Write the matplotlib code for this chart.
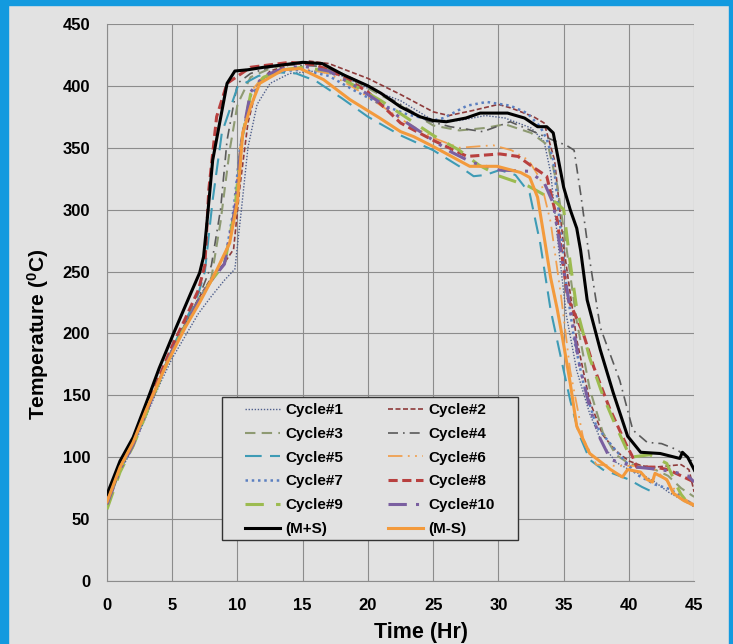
import matplotlib
matplotlib.use('Agg')
import matplotlib.pyplot as plt
from matplotlib.patches import Rectangle

plt.rcParams['font.family'] = ['Liberation Sans', 'DejaVu Sans']
plt.rcParams['mathtext.fontset'] = 'custom'
plt.rcParams['mathtext.bf'] = 'Liberation Sans:bold'
plt.rcParams['mathtext.rm'] = 'Liberation Sans'

# values (time in hours, temperature in deg C)
c1_t = [0, 1, 2, 3, 4, 5, 6, 7, 8, 9, 9.8, 10.3, 10.8, 11.5, 12.5, 14, 16, 18, 20, 22.5,
        25, 27, 29, 30.5, 32.5, 33.5, 34, 34.6, 35.2, 36, 37, 38, 39, 40, 41, 42, 43, 44, 45]
c1_T = [62, 88, 108, 133, 158, 180, 198, 216, 230, 243, 252, 300, 350, 385, 402, 410, 412, 408, 398, 388,
        372, 372, 376, 374, 366, 355, 330, 270, 215, 170, 135, 110, 96, 90, 86, 80, 72, 66, 60]

c2_t = [0, 1, 2, 3, 4, 5, 6, 7, 8, 9, 9.7, 10.2, 10.8, 11.5, 12.5, 14, 15.5, 17, 18.5, 20, 22.5,
        25, 26.2, 28, 30, 31, 32.7, 33.5, 34.3, 35, 36, 37, 38, 39, 40, 41, 42, 43, 44, 44.6, 45]
c2_T = [63, 91, 111, 137, 163, 187, 208, 228, 245, 257, 268, 320, 370, 400, 412, 417, 420, 418, 412, 406, 393,
        379, 376, 380, 385, 382, 375, 370, 340, 270, 195, 145, 118, 105, 97, 93, 92, 93, 94, 90, 72]

c3_t = [0, 1, 2, 3, 4, 5, 6, 7, 8, 8.7, 9.4, 10, 11, 12.5, 14, 16, 18, 20, 22.5, 25, 27, 29, 30.5,
        32.5, 33.8, 34.5, 35.2, 36, 37, 38, 39, 40, 41, 42, 43, 44, 45]
c3_T = [60, 90, 110, 136, 162, 186, 206, 226, 245, 290, 348, 385, 407, 414, 418, 418, 410, 398, 384, 368, 364, 366, 369,
        362, 352, 320, 270, 210, 155, 120, 102, 95, 92, 90, 85, 75, 68]

c4_t = [0, 1, 2, 3, 4, 5, 6, 7, 8, 8.7, 9.2, 10, 11, 12.5, 14, 16, 18, 20, 22.5, 24.5, 26.3, 28.8, 30.9,
        32.7, 34.2, 35.2, 35.8, 36.3, 37, 37.8, 39.3, 40.3, 41.4, 42.5, 43.7, 44.8, 45]
c4_T = [61, 90, 111, 137, 163, 188, 208, 228, 255, 300, 356, 402, 410, 415, 417, 416, 410, 400, 385, 372, 367, 363, 371,
        363, 356, 352, 348, 313, 259, 205, 162, 122, 112, 111, 106, 97, 88]

c5_t = [0, 1, 2, 3, 4, 5, 6, 7, 7.5, 8.1, 8.8, 10, 11.6, 13, 14.5, 16, 18, 20, 22.5, 25, 27, 28.1, 29,
        30.1, 31.3, 32.4, 33.2, 34, 35, 35.5, 36.2, 37, 38, 39, 40, 41, 41.6]
c5_T = [62, 90, 110, 136, 162, 188, 210, 232, 250, 308, 362, 399, 408, 411, 410, 404, 390, 375, 360, 348, 335, 327, 328,
        332, 328, 313, 273, 219, 170, 146, 118, 98, 90, 86, 82, 76, 73]

c6_t = [0, 1, 2, 3, 4, 5, 6, 7, 8, 9, 9.8, 10.2, 11, 12, 13.5, 15, 17, 19, 21, 23, 25, 27, 29.6,
        31, 32.3, 33.2, 34, 34.8, 35.5, 36.5, 37.5, 39, 40.6, 42, 43, 44, 45]
c6_T = [63, 91, 111, 137, 162, 186, 206, 225, 242, 256, 300, 350, 395, 408, 413, 414, 410, 398, 384, 370, 358, 350, 352,
        348, 340, 325, 290, 230, 170, 115, 94, 93, 93, 90, 80, 68, 62]

c7_t = [0, 1, 2, 3, 4, 5, 6, 7, 8, 9, 9.7, 10.2, 11, 12, 13.5, 15, 17, 19, 21, 23, 25, 25.8, 27.6, 29.1,
        30.9, 32.2, 33.2, 33.7, 34.2, 34.7, 35.2, 35.8, 36.5, 37.5, 38.8, 40.6, 42, 43.2, 44, 45]
c7_T = [62, 90, 110, 136, 162, 186, 206, 226, 243, 257, 300, 350, 392, 406, 412, 413, 408, 396, 385, 377, 372, 374, 384, 387,
        384, 378, 367, 357, 340, 290, 240, 195, 160, 125, 108, 86, 78, 74, 68, 61]

c8_t = [0, 1, 2, 3, 4, 5, 6, 7, 7.5, 7.8, 8.4, 9.2, 11, 14, 16, 18, 20, 22.5, 25, 27.6, 30.1,
        31.5, 32.7, 33.7, 34.5, 35.3, 36.5, 37.3, 38.5, 39.8, 40.3, 40.6, 42, 43, 44, 45]
c8_T = [65, 93, 113, 139, 165, 190, 212, 235, 255, 316, 375, 402, 415, 419, 417, 408, 395, 370, 356, 343, 345,
        343, 334, 327, 292, 229, 200, 173, 140, 110, 100, 92, 92, 90, 85, 80]

c9_t = [0, 1, 2, 3, 4, 5, 6, 7, 8, 9, 9.8, 10.3, 11, 12, 13.5, 15, 17, 19, 21, 23, 25, 27, 28.5,
        30.1, 32.3, 33.5, 34.5, 35, 35.5, 36, 37, 38, 38.8, 40.1, 41.6, 42.9, 43.7, 44, 44.3]
c9_T = [58, 88, 109, 135, 161, 186, 206, 226, 243, 256, 300, 355, 393, 407, 413, 415, 412, 400, 388, 374, 360, 348, 336,
        327, 319, 312, 305, 300, 257, 220, 180, 150, 130, 100, 102, 95, 76, 70, 66]

c10_t = [0, 1, 2, 3, 4, 5, 6, 7, 8, 9, 9.8, 10.3, 11, 12, 13.5, 15, 17, 19, 21, 23, 25, 26.3, 28,
         30.1, 32.3, 33.5, 34.2, 35, 35.5, 36.2, 37, 37.8, 38.6, 40.6, 42.4, 43.5, 44.5, 45]
c10_T = [62, 90, 110, 136, 162, 186, 206, 226, 243, 256, 300, 355, 395, 408, 414, 416, 412, 400, 386, 370, 356, 347, 338,
         332, 331, 322, 305, 251, 220, 175, 140, 115, 98, 92, 90, 88, 85, 80]

mps_t = [0, 1, 2, 3.3, 4, 5.1, 6.4, 7.1, 7.4, 7.6, 8.1, 9.2, 9.8, 10.8, 12, 13.5, 15, 16.5, 18.1, 20, 21,
         22.5, 24, 25, 26, 27.5, 28.6, 30.7, 32, 33, 33.7, 34.2, 35, 35.5, 36, 36.3, 36.8, 37.8, 38.8,
         39.9, 40.9, 42.4, 43.9, 44.1, 44.5, 45]
mps_T = [70, 97, 116, 152, 172, 200, 232, 249, 262, 283, 340, 402, 412, 413, 415, 417, 419, 418, 409, 400, 394,
         383, 375, 372, 371, 374, 378, 378, 374, 367, 367, 362, 318, 300, 285, 267, 227, 187, 152,
         117, 104, 103, 99, 104, 100, 90]

mms_t = [0, 1, 2, 3, 4, 4.6, 6, 7.1, 8.4, 9.4, 10, 10.4, 11, 11.7, 13.5, 14.8, 16.6, 18.6, 20.9, 22.5,
         23.5, 25, 27.8, 29.9, 31.7, 32.4, 33, 33.5, 34, 34.5, 34.9, 35.5, 36, 37, 38.6, 39.5, 39.9,
         40.9, 41.4, 41.8, 42, 42.9, 43.4, 44.2, 45]
mms_T = [64, 92, 112, 138, 162, 176, 205, 225, 251, 273, 307, 362, 383, 402, 413, 414, 405, 389, 374, 363,
         359, 351, 335, 335, 330, 326, 310, 278, 245, 220, 197, 160, 125, 103, 90, 84, 90,
         88, 82, 80, 87, 82, 71, 65, 61]

series = [
    ('Cycle#1', c1_t, c1_T, '#4F5F8C', (0, (1, 1.2)), 1.0),
    ('Cycle#2', c2_t, c2_T, '#8E3B3B', (0, (3, 1.5)), 1.2),
    ('Cycle#3', c3_t, c3_T, '#8E9A72', (0, (5, 3)), 1.5),
    ('Cycle#4', c4_t, c4_T, '#5A5A5A', (0, (6, 3, 1, 3)), 1.2),
    ('Cycle#5', c5_t, c5_T, '#3E9BB5', (0, (8, 4)), 1.5),
    ('Cycle#6', c6_t, c6_T, '#F0A050', (0, (8, 3, 1, 3, 1, 3)), 1.3),
    ('Cycle#7', c7_t, c7_T, '#5B7FC0', (0, (1, 1.5)), 1.8),
    ('Cycle#8', c8_t, c8_T, '#B8403F', (0, (3, 1.5)), 2.2),
    ('Cycle#9', c9_t, c9_T, '#9CBB50', (0, (6, 4)), 2.2),
    ('Cycle#10', c10_t, c10_T, '#7A5FA0', (0, (6, 3, 1, 3, 1, 3)), 2.2),
    ('(M+S)', mps_t, mps_T, 'black', '-', 2.2),
    ('(M-S)', mms_t, mms_T, '#F39A3C', '-', 2.2),
]

bg = '#E2E2E2'
fig = plt.figure(figsize=(7.33, 6.44), dpi=100, facecolor=bg)
ax = fig.add_axes([0.146, 0.0978, 0.801, 0.865], facecolor=bg)

handles = {}
for name, t, T, col, ls, lw in series:
    z = 5 if name.startswith('(') else 3
    h, = ax.plot(t, T, color=col, linestyle=ls, linewidth=lw, label=name, zorder=z)
    handles[name] = h

ax.set_xlim(0, 45)
ax.set_ylim(0, 450)
ax.set_xticks(range(0, 46, 5))
ax.set_yticks(range(0, 451, 50))
ax.grid(True, color='#8C8C8C', linewidth=0.8)
ax.set_axisbelow(True)
for s in ['top', 'right']:
    ax.spines[s].set_visible(False)
for s in ['left', 'bottom']:
    ax.spines[s].set_color('#8C8C8C')
    ax.spines[s].set_linewidth(0.8)
ax.tick_params(length=0, labelsize=12, pad=12)
for lab in ax.get_xticklabels() + ax.get_yticklabels():
    lab.set_fontweight('bold')

ax.set_xlabel('Time (Hr)', fontsize=15.5, fontweight='bold')
ax.set_ylabel(r'Temperature ($\mathbf{^{0}}$C)', fontsize=15, fontweight='bold')
ax.xaxis.set_label_coords(0.535, -0.074)
ax.yaxis.set_label_coords(-0.095, 0.443)

# legend box drawn separately, entries filled row by row like the original
box = Rectangle((0.196, 0.0736), 0.5043, 0.2567, transform=ax.transAxes,
                facecolor=bg, edgecolor='#333333', linewidth=1.0, zorder=5.5)
ax.add_patch(box)

order = ['Cycle#1', 'Cycle#3', 'Cycle#5', 'Cycle#7', 'Cycle#9', '(M+S)',
         'Cycle#2', 'Cycle#4', 'Cycle#6', 'Cycle#8', 'Cycle#10', '(M-S)']
leg = ax.legend([handles[k] for k in order], order, ncol=2,
                loc='upper left', bbox_to_anchor=(0.2249, 0.0736, 0.4463, 0.2567), mode='expand',
                prop={'weight': 'bold', 'size': 11}, frameon=False,
                handlelength=2.3, handletextpad=0.35, labelspacing=0.64, columnspacing=1.0,
                borderpad=0.4, borderaxespad=0)
leg.set_zorder(6)

# blue frame around the picture
blue = '#139ADF'
fig.patches.append(Rectangle((0, 0), 0.011, 1, transform=fig.transFigure, color=blue, zorder=0))
fig.patches.append(Rectangle((0, 0.993), 1, 0.007, transform=fig.transFigure, color=blue, zorder=0))
fig.patches.append(Rectangle((0.994, 0), 0.006, 1, transform=fig.transFigure, color=blue, zorder=0))

fig.savefig('out.png', dpi=100, facecolor=bg)
